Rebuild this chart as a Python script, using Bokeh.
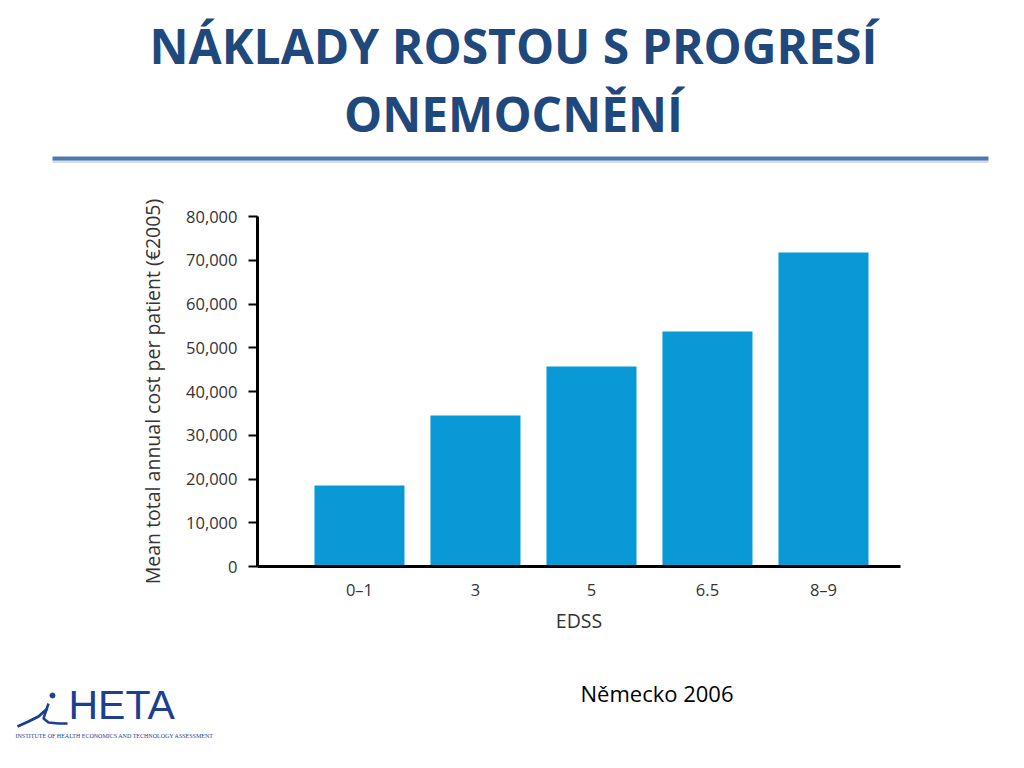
from bokeh.plotting import figure
from bokeh.layouts import column, row
from bokeh.models import (Range1d, FixedTicker, NumeralTickFormatter, Label,
                          ColumnDataSource)
from bokeh.embed import file_html
from bokeh.resources import INLINE

# ---- data ----
categories = ["0–1", "3", "5", "6.5", "8–9"]
costs = [18500, 34500, 45700, 53700, 71800]
y_ticks = [0, 10000, 20000, 30000, 40000, 50000, 60000, 70000, 80000]
title_lines = ["NÁKLADY ROSTOU S PROGRESÍ", "ONEMOCNĚNÍ"]
x_title = "EDSS"
y_title = "Mean total annual cost per patient (€2005)"
source_note = "Německo 2006"

W = 1024
TITLE_BLUE = "#1F497D"
BAR = "#0899D6"
TXT = "#333333"
FONT = "Open Sans"


def blank(h):
    f = figure(width=W, height=h, x_range=Range1d(0, W), y_range=Range1d(h, 0),
               output_backend="svg", toolbar_location=None,
               min_border=0, min_border_left=0, min_border_right=0,
               min_border_top=0, min_border_bottom=0)
    f.axis.visible = False
    f.grid.visible = False
    f.outline_line_color = None
    f.background_fill_color = "white"
    f.border_fill_color = "white"
    return f


# ---- header (y = page y) ----
H1 = 195
head = blank(H1)
for txt, yb in zip(title_lines, [45, 113]):
    head.add_layout(Label(x=513, y=yb, text=txt, text_align="center",
                          text_baseline="alphabetic", text_font=FONT,
                          text_font_style="bold", text_font_size="48px",
                          text_color=TITLE_BLUE))
head.line([52, 988], [161, 161], line_color="#D3DDEC", line_width=3)
head.line([52, 988], [158, 158], line_color="#5078B4", line_width=4)

# ---- chart ----
H2 = 455
xs = list(range(len(categories)))
src = ColumnDataSource(dict(x=xs, top=costs, cat=categories))
p = figure(width=W, height=H2, x_range=Range1d(-0.879, 4.664),
           y_range=Range1d(0, 80000), output_backend="svg",
           toolbar_location=None, min_border_left=257, min_border_right=124,
           min_border_top=21, min_border_bottom=84)
p.vbar(x="x", top="top", width=0.776, source=src, fill_color=BAR,
       line_color=None)
p.grid.visible = False
p.outline_line_color = None

p.yaxis.ticker = FixedTicker(ticks=y_ticks)
p.yaxis.formatter = NumeralTickFormatter(format="0,0")
p.yaxis.minor_tick_line_color = None
p.yaxis.major_tick_out = 9
p.yaxis.major_tick_in = 0
p.yaxis.major_tick_line_width = 2
p.yaxis.major_label_standoff = 11
p.yaxis.axis_label = y_title
p.yaxis.axis_label_standoff = 17

p.xaxis.ticker = FixedTicker(ticks=xs)
p.xaxis.major_label_overrides = {i: c for i, c in zip(xs, categories)}
p.xaxis.major_tick_line_color = None
p.xaxis.minor_tick_line_color = None
p.xaxis.major_label_standoff = 5
p.xaxis.axis_label = x_title
p.xaxis.axis_label_standoff = 3

for ax in (p.xaxis, p.yaxis):
    ax.axis_line_width = 3
    ax.axis_line_color = "black"
    ax.major_label_text_font = FONT
    ax.major_label_text_font_size = "16.5px"
    ax.major_label_text_color = TXT
    ax.axis_label_text_font = FONT
    ax.axis_label_text_font_size = "19.5px"
    ax.axis_label_text_font_style = "normal"
    ax.axis_label_text_color = TXT

# ---- footer (y = page y - 650) ----
H3 = 118
foot = blank(H3)
foot.add_layout(Label(x=580, y=42, text=source_note, text_align="left",
                      text_baseline="alphabetic", text_font=FONT,
                      text_font_size="22px", text_color="black"))
LOGO = "#1D3F91"
foot.add_layout(Label(x=68, y=54, text="HETA", text_align="left",
                      text_baseline="alphabetic",
                      text_font="Liberation Sans",
                      text_font_size="41px", text_color=LOGO))
foot.add_layout(Label(x=15, y=85, text="INSTITUTE OF HEALTH ECONOMICS AND TECHNOLOGY ASSESSMENT",
                      text_align="left", text_baseline="alphabetic",
                      text_font="Liberation Serif", text_font_size="6px",
                      text_color=LOGO))
foot.line([17, 28, 38, 47], [76, 71, 66, 58], line_color=LOGO, line_width=3)
foot.line([48, 45, 43, 48, 58, 67], [53, 62, 68, 72, 73, 73], line_color=LOGO,
          line_width=2.5)
foot.scatter([52], [45], size=5, color=LOGO)

layout = column(row(head), p, row(foot), spacing=0)
open("out.html", "w").write(file_html(layout, INLINE))
